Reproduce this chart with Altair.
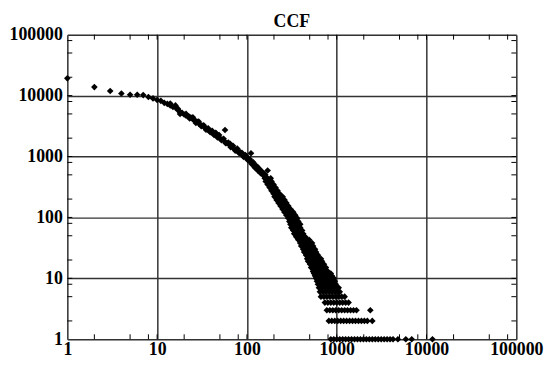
import altair as alt
import pandas as pd

# ---- main curve (one point per degree, upper part) ----
curve_x = [1, 2, 3, 4, 5, 6, 7, 8, 9, 10, 11, 12, 13, 14, 15, 16, 17, 18, 19, 20,
           21, 22, 23, 24, 25, 26, 27, 28, 29, 30, 32, 34, 36, 38, 40, 42, 44, 46, 48, 50,
           53, 56, 60, 64, 68, 72, 76, 80, 85, 90, 95, 100, 105, 110, 115, 120, 125, 130,
           135, 140, 145, 150]
curve_y = [19200, 13800, 11900, 10800, 10300, 10300, 10200, 9500, 9000, 8500,
           8200, 7600, 7300, 6900, 6500, 6400, 5800, 5400, 5200, 4900,
           4700, 4600, 4500, 4300, 4100, 3900, 3800, 3700, 3500, 3400,
           3200, 3000, 2800, 2650, 2550, 2400, 2300, 2200, 2100, 2000,
           1900, 1800, 1650, 1550, 1450, 1350, 1280, 1210, 1130, 1050, 990, 940,
           880, 820, 770, 720, 680, 640, 610, 570, 540, 510]

# ---- scatter around the curve and outliers ----
spread_x = [14, 16, 17, 18, 21, 23, 25, 27, 29, 31, 33, 35, 37, 39, 41, 43, 45, 47, 49,
            52, 55, 58, 62, 66, 70, 74, 78, 82, 88, 92, 98, 102, 108, 112, 118, 122, 128,
            132, 138, 142, 148, 155, 160, 57, 111, 170, 65, 84, 96, 116, 134]
spread_y = [7400, 6900, 6100, 5000, 5000, 4200, 4400, 3550, 3750, 3150, 3250, 2750, 2900,
            2500, 2650, 2250, 2450, 2050, 2250, 1850, 1950, 1650, 1700, 1420, 1500, 1250,
            1350, 1130, 1150, 980, 1020, 880, 900, 760, 800, 660, 700, 590, 620, 530, 560,
            480, 500, 2720, 1130, 590, 1620, 1180, 1060, 740, 650]

# ---- lower part: for each count value, the degrees observed ----
row_y = [438, 390, 347, 309, 275, 245, 218, 194, 173, 154, 137, 122, 109, 97, 86, 77,
         68, 61, 54, 48, 43, 38, 34, 30, 27, 24, 21, 19, 17, 15, 13, 12, 11, 10, 9, 8,
         7, 6, 5, 4, 3, 2, 1]
row_x = [
    [158, 170, 184],
    [162, 175, 188],
    [170, 184, 198],
    [179, 193, 208],
    [188, 203, 219],
    [198, 214, 231],
    [203, 219, 237, 250],
    [214, 231, 249, 262],
    [225, 243, 262, 275],
    [237, 255, 275, 289],
    [249, 268, 289, 305],
    [262, 282, 305, 328],
    [275, 297, 320, 345],
    [289, 312, 337, 363],
    [297, 320, 345, 373],
    [305, 328, 354, 382, 392],
    [312, 336, 363, 392],
    [328, 354, 382, 412],
    [336, 363, 392, 423],
    [354, 382, 412, 445],
    [373, 402, 434, 468, 492],
    [392, 423, 456, 492, 531],
    [402, 434, 468, 505, 545],
    [423, 456, 492, 531, 573],
    [434, 468, 505, 545, 588],
    [456, 492, 531, 573, 618],
    [468, 505, 545, 588, 634, 667],
    [480, 518, 559, 603, 650, 684],
    [505, 545, 588, 634, 684, 720],
    [518, 559, 603, 650, 702, 757],
    [545, 588, 634, 684, 738, 796],
    [559, 603, 650, 702, 757, 817, 859],
    [573, 618, 667, 720, 776, 838, 880],
    [588, 634, 684, 738, 796, 859, 927],
    [603, 650, 702, 757, 817, 881, 951],
    [618, 667, 720, 776, 838, 904, 976],
    [634, 684, 738, 796, 859, 927, 1000, 1052],
    [650, 702, 757, 817, 881, 951, 1026, 1080],
    [667, 720, 776, 838, 904, 975, 1052, 1135, 1225],
    [738, 796, 859, 927, 1000, 1080, 1164, 1256, 1355],
    [776, 838, 904, 975, 1052, 1135, 1225, 1320, 1426, 1538, 1660, 2366],
    [817, 881, 951, 1026, 1107, 1194, 1288, 1390, 1500, 1618, 1746, 1884, 2032, 2193, 2489],
    [859, 927, 1000, 1080, 1164, 1256, 1355, 1462, 1578, 1702, 1837, 1982, 2138, 2307,
     2489, 2686, 2898, 3127, 3374, 3640, 3928, 4238, 4800, 5880, 6840, 11650],
]

decades = [1, 10, 100, 1000, 10000, 100000]
minor_ticks = [2, 5, 8, 10, 20, 50, 80, 100, 200, 500, 800, 1000, 2000, 5000, 8000,
               10000, 20000, 50000, 80000]

rows = list(zip(curve_x, curve_y)) + list(zip(spread_x, spread_y))
for yv, xs in zip(row_y, row_x):
    for xv in xs:
        rows.append((xv, yv))
df = pd.DataFrame(rows, columns=["x", "y"])
xt = pd.DataFrame({"x": minor_ticks})
yt = pd.DataFrame({"y": minor_ticks})

W, H = 454, 308
FONT = "Liberation Serif"
xscale = alt.Scale(type="log", domain=[1, 100000], nice=False)
yscale = alt.Scale(type="log", domain=[1, 100000], nice=False)
common = dict(values=decades, format="d", grid=True, ticks=False, tickSize=0, domain=False,
              labelFont=FONT, labelFontWeight="bold", labelColor="black",
              gridColor="#333333", gridWidth=1.5, title=None, labelFlush=False,
              labelOverlap=False)
xaxis = alt.Axis(labelPadding=1, labelFontSize=18, **common)
yaxis = alt.Axis(labelPadding=5, labelFontSize=18, **common)

points = alt.Chart(df).mark_point(shape="diamond", filled=True, size=45, color="black",
                                  opacity=1, strokeWidth=0).encode(
    x=alt.X("x:Q", scale=xscale, axis=xaxis),
    y=alt.Y("y:Q", scale=yscale, axis=yaxis),
)
tick_bottom = alt.Chart(xt).mark_rule(color="black", strokeWidth=1).encode(
    x=alt.X("x:Q", scale=xscale, axis=xaxis), y=alt.value(H), y2=alt.value(H - 5))
tick_top = alt.Chart(xt).mark_rule(color="black", strokeWidth=1).encode(
    x=alt.X("x:Q", scale=xscale, axis=xaxis), y=alt.value(0), y2=alt.value(5))
tick_left = alt.Chart(yt).mark_rule(color="black", strokeWidth=1).encode(
    y=alt.Y("y:Q", scale=yscale, axis=yaxis), x=alt.value(0), x2=alt.value(5))
tick_right = alt.Chart(yt).mark_rule(color="black", strokeWidth=1).encode(
    y=alt.Y("y:Q", scale=yscale, axis=yaxis), x=alt.value(W), x2=alt.value(W - 5))

chart = alt.layer(points, tick_bottom, tick_top, tick_left, tick_right).properties(
    width=W, height=H,
    title=alt.Title("CCF", font=FONT, fontSize=18, fontWeight="bold", color="black",
                    offset=-5),
    autosize=alt.AutoSizeParams(type="none"),
    padding={"left": 60, "top": 25, "right": 29, "bottom": 19},
).configure_view(stroke="black", strokeWidth=2).configure(background="white")

chart.save("out.html", embed_options={"renderer": "svg", "actions": False})
